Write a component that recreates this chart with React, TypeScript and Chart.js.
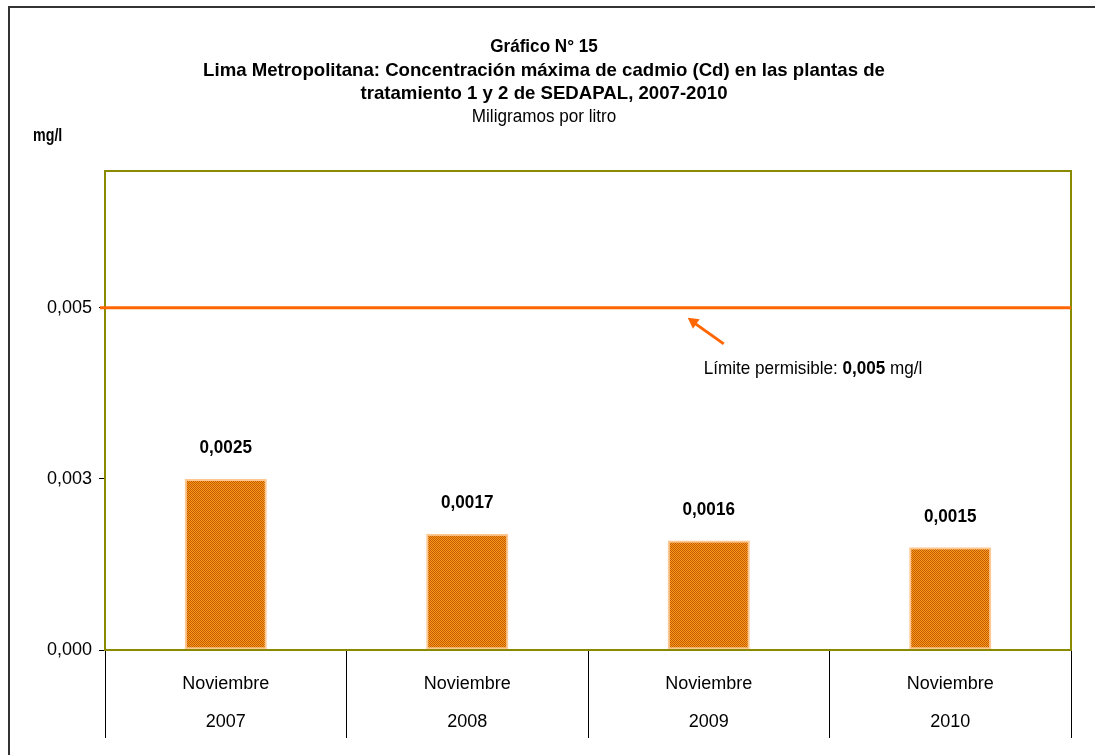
import React, { useEffect, useRef } from "react";
import { Chart, registerables } from "chart.js";

Chart.register(...registerables);

const categories: string[][] = [
  ["Noviembre", "2007"],
  ["Noviembre", "2008"],
  ["Noviembre", "2009"],
  ["Noviembre", "2010"],
];
const values: number[] = [0.0025, 0.0017, 0.0016, 0.0015];
const valueLabels: string[] = ["0,0025", "0,0017", "0,0016", "0,0015"];
const limitValue = 0.005;
const yMin = 0;
const yMax = 0.007;
const yStep = 0.0025;
const titleLines: string[] = [
  "Gráfico N° 15",
  "Lima Metropolitana: Concentración máxima de cadmio (Cd) en las plantas de",
  "tratamiento 1 y 2 de SEDAPAL, 2007-2010",
];
const subtitle = "Miligramos por litro";
const yUnit = "mg/l";
const limitText: string[] = ["Límite permisible: ", "0,005", " mg/l"];

const FONT = '"Liberation Sans", Arial, sans-serif';
const OLIVE = "#8a8a00";
const ORANGE_LINE = "#ff6600";

function makePattern(): CanvasPattern | string {
  const c = document.createElement("canvas");
  c.width = 4;
  c.height = 4;
  const g = c.getContext("2d");
  if (!g) return "#e88010";
  g.fillStyle = "#ff9a1a";
  g.fillRect(0, 0, 4, 4);
  g.fillStyle = "#c05a00";
  for (let yy = 0; yy < 4; yy++) {
    for (let xx = 0; xx < 4; xx++) {
      if ((xx + yy) % 2 === 0) g.fillRect(xx, yy, 1, 1);
    }
  }
  const p = g.createPattern(c, "repeat");
  return p || "#e88010";
}

function drawText(ctx: CanvasRenderingContext2D, s: string, x: number, y: number, font: string, align: CanvasTextAlign, sx: number) {
  ctx.save();
  ctx.font = font;
  ctx.textAlign = align;
  ctx.textBaseline = "middle";
  ctx.translate(x, y);
  ctx.scale(sx, 1);
  ctx.fillText(s, 0, 0);
  const w = ctx.measureText(s).width * sx;
  ctx.restore();
  return w;
}

const decorPlugin = {
  id: "decor",
  beforeDraw(chart: any) {
    const ctx = chart.ctx;
    ctx.save();
    ctx.fillStyle = "#ffffff";
    ctx.fillRect(0, 0, chart.width, chart.height);
    // outer frame (top & left)
    ctx.strokeStyle = "#333333";
    ctx.lineWidth = 2;
    ctx.beginPath();
    ctx.moveTo(9, chart.height);
    ctx.lineTo(9, 7);
    ctx.lineTo(chart.width, 7);
    ctx.stroke();
    ctx.fillStyle = "#000";
    // titles
    const cx = 544;
    drawText(ctx, titleLines[0], cx, 47, "bold 19px " + FONT, "center", 0.9);
    drawText(ctx, titleLines[1], cx, 71, "bold 19px " + FONT, "center", 0.98);
    drawText(ctx, titleLines[2], cx, 94, "bold 19px " + FONT, "center", 0.98);
    drawText(ctx, subtitle, cx, 117, "18px " + FONT, "center", 0.95);
    drawText(ctx, yUnit, 33, 136, "bold 19px " + FONT, "left", 0.75);
    ctx.restore();
  },
  afterDatasetsDraw(chart: any) {
    const ctx = chart.ctx;
    const { left, right, top, bottom } = chart.chartArea;
    const ys = chart.scales.y;
    const xs = chart.scales.x;
    ctx.save();
    // plot border
    ctx.strokeStyle = OLIVE;
    ctx.lineWidth = 2;
    ctx.strokeRect(left, top, right - left, bottom - top);
    // limit line
    const ly = ys.getPixelForValue(limitValue);
    ctx.strokeStyle = ORANGE_LINE;
    ctx.lineWidth = 3;
    ctx.beginPath();
    ctx.moveTo(left - 5, ly);
    ctx.lineTo(right, ly);
    ctx.stroke();
    // arrow
    const tipX = xs.getPixelForValue(2) - 21;
    const tipY = ly + 10;
    const tailX = tipX + 36;
    const tailY = tipY + 26;
    ctx.lineWidth = 3;
    ctx.beginPath();
    ctx.moveTo(tailX, tailY);
    ctx.lineTo(tipX + 5, tipY + 4);
    ctx.stroke();
    const ang = Math.atan2(tipY - tailY, tipX - tailX);
    ctx.fillStyle = ORANGE_LINE;
    ctx.beginPath();
    ctx.moveTo(tipX, tipY);
    ctx.lineTo(tipX - 12 * Math.cos(ang - 0.5), tipY - 12 * Math.sin(ang - 0.5));
    ctx.lineTo(tipX - 12 * Math.cos(ang + 0.5), tipY - 12 * Math.sin(ang + 0.5));
    ctx.closePath();
    ctx.fill();
    // limit text
    let tx = tipX + 16;
    const ty = ly + 61;
    ctx.fillStyle = "#000";
    limitText.forEach((s, i) => {
      tx += drawText(ctx, s, tx, ty, (i === 1 ? "bold " : "") + "19px " + FONT, "left", 0.9);
    });
    // value labels
    const meta = chart.getDatasetMeta(0);
    meta.data.forEach((bar: any, i: number) => {
      drawText(ctx, valueLabels[i], bar.x, bar.y - 31, "bold 19px " + FONT, "center", 0.9);
    });
    ctx.restore();
  },
};

export default function App() {
  const ref = useRef<HTMLCanvasElement | null>(null);
  useEffect(() => {
    if (!ref.current) return;
    const chart = new Chart(ref.current, {
      type: "bar",
      data: {
        labels: categories,
        datasets: [
          {
            data: values,
            backgroundColor: makePattern() as any,
            borderColor: "#ffc890",
            borderWidth: 2,
            borderSkipped: false,
            barPercentage: 0.34,
            categoryPercentage: 1,
          },
        ],
      },
      options: {
        animation: false,
        responsive: false,
        devicePixelRatio: 1,
        layout: { padding: { left: 0, top: 171, right: 24, bottom: 0 } },
        plugins: {
          legend: { display: false },
          tooltip: { enabled: false },
          title: { display: false },
        },
        scales: {
          x: {
            afterFit(scale: any) {
              scale.height = 105;
            },
            grid: {
              offset: true,
              drawOnChartArea: false,
              drawTicks: true,
              tickLength: 88,
              color: "#000",
              lineWidth: 1,
            },
            border: { color: OLIVE, width: 2 },
            ticks: {
              autoSkip: false,
              maxRotation: 0,
              minRotation: 0,
              padding: -73,
              color: "#000",
              font: { family: FONT, size: 18, lineHeight: 38 / 18 },
            },
          },
          y: {
            min: yMin,
            max: yMax,
            afterFit(scale: any) {
              scale.width = 105;
            },
            grid: {
              drawOnChartArea: false,
              drawTicks: true,
              tickLength: 6,
              color: "#000",
            },
            border: { color: OLIVE, width: 2 },
            ticks: {
              stepSize: yStep,
              padding: 7,
              color: "#000",
              font: { family: FONT, size: 18 },
              callback: (v: any) => {
                const n = Number(v);
                if (n > yMax - 1e-9) return null;
                return n.toFixed(3).replace(".", ",");
              },
            },
          },
        },
      },
      plugins: [decorPlugin],
    });
    return () => chart.destroy();
  }, []);
  return (
    <div style={{ position: "absolute", left: 0, top: 0, width: 1095, height: 755, background: "#fff" }}>
      <canvas ref={ref} width={1095} height={755} style={{ width: 1095, height: 755, display: "block" }} />
    </div>
  );
}
